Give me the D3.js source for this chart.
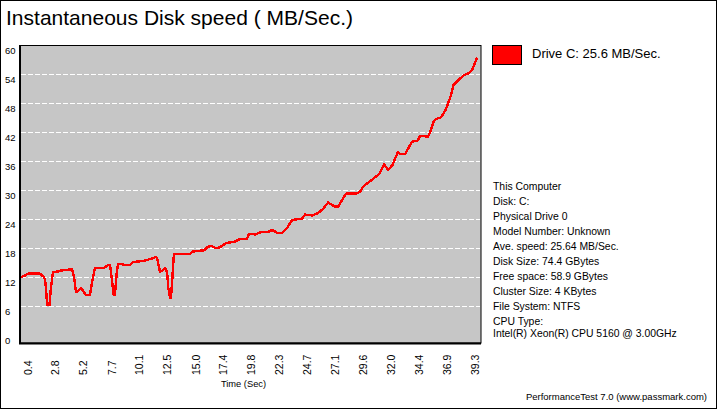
<!DOCTYPE html>
<html>
<head>
<meta charset="utf-8">
<script src="https://cdn.jsdelivr.net/npm/d3@7"></script>
<style>
  body { margin: 0; background: #fff; }
  svg { display: block; }
  text { font-family: "Liberation Sans", Arial, sans-serif; fill: #000; }
</style>
</head>
<body>
<svg id="chart" width="717" height="410"></svg>
<script>
// values
var times = [0, 0.35, 0.61, 1.65, 2.0, 2.09, 2.17, 2.23, 2.3, 2.48, 2.61, 2.78, 3.22, 3.48, 4.26, 4.43, 4.61, 4.78, 4.96, 5.22, 5.65, 6.0, 6.17, 6.43, 7.22, 7.57, 7.74, 7.89, 8.0, 8.06, 8.17, 8.32, 8.43, 8.78, 8.96, 9.48, 9.74, 10.61, 11.39, 11.74, 11.83, 12.09, 12.35, 12.52, 12.7, 12.81, 12.96, 13.04, 13.16, 13.3, 14.7, 14.87, 15.91, 16.26, 16.61, 16.87, 17.13, 17.48, 17.83, 18.26, 18.61, 19.04, 19.65, 19.83, 20.35, 20.87, 21.48, 21.83, 22.26, 22.7, 23.13, 23.57, 24.43, 24.7, 25.3, 25.83, 26.26, 26.7, 27.3, 27.57, 27.91, 28.26, 29.13, 29.48, 29.74, 30.26, 31.04, 31.22, 31.57, 31.91, 32.3, 32.78, 32.96, 33.39, 33.83, 34.0, 34.48, 34.7, 35.0, 35.35, 35.57, 35.87, 36.09, 36.52, 36.87, 37.17, 37.39, 37.61, 38.04, 38.52, 38.91, 39.22, 39.39, 39.65];
var speeds = [12.10, 12.41, 12.79, 12.79, 12.10, 11.48, 9.83, 7.76, 6.31, 6.31, 10.03, 13.14, 13.24, 13.45, 13.66, 13.76, 12.10, 9.0, 9.21, 9.83, 8.38, 8.38, 10.86, 13.97, 13.97, 14.59, 14.59, 11.9, 9.6, 8.38, 8.38, 12.93, 14.79, 14.79, 14.59, 14.59, 15.21, 15.41, 15.93, 16.24, 16.03, 13.14, 13.55, 14.03, 13.14, 9.83, 7.76, 7.76, 11.9, 16.92, 16.92, 17.34, 17.63, 18.37, 18.52, 18.1, 18.1, 18.52, 19.14, 19.28, 19.45, 19.97, 19.97, 21.06, 20.9, 21.41, 21.41, 21.83, 21.27, 21.21, 22.24, 23.9, 24.17, 25.03, 24.83, 25.34, 26.17, 27.52, 26.65, 26.65, 28.03, 29.34, 29.34, 29.75, 30.79, 31.76, 33.21, 33.68, 35.48, 34.24, 35.28, 38.03, 37.55, 37.49, 39.41, 40.1, 40.3, 41.28, 41.28, 41.07, 42.04, 44.24, 44.79, 45.15, 46.45, 48.25, 49.76, 51.83, 52.86, 53.9, 54.25, 54.93, 55.97, 57.48];
var yTicks = [0, 6, 12, 18, 24, 30, 36, 42, 48, 54, 60];
var xTicks = ["0.4", "2.8", "5.2", "7.7", "10.1", "12.5", "15.0", "17.4", "19.8", "22.3", "24.7", "27.1", "29.6", "32.0", "34.4", "36.9", "39.3"];
var infoLines = ["This Computer", "Disk: C:", "Physical Drive 0", "Model Number: Unknown", "Ave. speed: 25.64 MB/Sec.", "Disk Size: 74.4 GBytes", "Free space: 58.9 GBytes", "Cluster Size: 4 KBytes", "File System: NTFS", "CPU Type:"];
var cpuLine = "Intel(R) Xeon(R) CPU 5160 @ 3.00GHz";

var svg = d3.select("#chart");

var x = d3.scaleLinear().domain([0, 39.3]).range([21, 473]);
var y = d3.scaleLinear().domain([0, 60]).range([335.5, 45.5]);

// outer border
svg.append("rect").attr("x", 0.5).attr("y", 0.5).attr("width", 716).attr("height", 408)
  .attr("fill", "#fff").attr("stroke", "#000");

svg.append("text").attr("x", 6).attr("y", 25).attr("font-size", 21)
  .attr("textLength", 347).text("Instantaneous Disk speed ( MB/Sec.)");

// plot area, runs a bit below the zero line like the original
svg.append("rect").attr("x", 20).attr("y", 45.5).attr("width", 461).attr("height", 297.5)
  .attr("fill", "#c6c6c6").attr("stroke", "#000");
svg.append("line").attr("x1", 20).attr("x2", 20).attr("y1", 45).attr("y2", 344)
  .attr("stroke", "#000").attr("stroke-width", 2);
svg.append("line").attr("x1", 19).attr("x2", 481).attr("y1", 343.5).attr("y2", 343.5)
  .attr("stroke", "#000").attr("stroke-width", 2);

// gridlines
svg.append("g").selectAll("line")
  .data(yTicks.filter(d => d > 0 && d < 60))
  .join("line")
  .attr("x1", 21).attr("x2", 480)
  .attr("y1", d => y(d)).attr("y2", d => y(d))
  .attr("stroke", "#fff").attr("stroke-dasharray", "5,2");

// y axis, labels sit left aligned and a little under their gridline
var yAxis = svg.append("g").attr("transform", "translate(5,4.5)")
  .call(d3.axisLeft(y).tickValues(yTicks).tickSize(0).tickPadding(0));
yAxis.select(".domain").remove();
yAxis.selectAll("text").attr("font-size", 9.5).attr("text-anchor", "start").attr("x", 0).attr("dy", "0.32em")
  .style("font-family", "'Liberation Sans', Arial, sans-serif");

// x axis, rotated labels
var xAxis = svg.append("g").attr("transform", "translate(0,345)")
  .call(d3.axisBottom(x).tickValues(xTicks.map(Number)).tickFormat(d3.format(".1f")).tickSize(0).tickPadding(0));
xAxis.select(".domain").remove();
xAxis.selectAll("text")
  .attr("font-size", 10.5)
  .attr("text-anchor", "start")
  .attr("dy", 0)
  .attr("y", 0)
  .attr("x", 0)
  .attr("transform", "translate(5.5,30) rotate(-90)")
  .style("font-family", "'Liberation Sans', Arial, sans-serif");

svg.append("text").attr("x", 243.5).attr("y", 386.5).attr("text-anchor", "middle")
  .attr("font-size", 9.3).text("Time (Sec)");

// the speed line
var line = d3.line().x((d, i) => x(times[i])).y(d => y(d));
svg.append("path").datum(speeds).attr("d", line)
  .attr("fill", "none").attr("stroke", "#ff0000").attr("stroke-width", 2.4)
  .attr("stroke-linejoin", "round").attr("shape-rendering", "crispEdges");

// legend
svg.append("rect").attr("x", 492.5).attr("y", 45.5).attr("width", 29).attr("height", 19)
  .attr("fill", "#ff0000").attr("stroke", "#000");
svg.append("text").attr("x", 532).attr("y", 58).attr("font-size", 13)
  .text("Drive C: 25.6 MB/Sec.");

// info block
svg.append("g").selectAll("text").data(infoLines).join("text")
  .attr("x", 493).attr("y", (d, i) => 190 + i * 15)
  .attr("font-size", 10.4).text(d => d);
svg.append("text").attr("x", 493).attr("y", 337).attr("font-size", 10.4).text(cpuLine);

svg.append("text").attr("x", 707).attr("y", 400).attr("text-anchor", "end")
  .attr("font-size", 9.5).text("PerformanceTest 7.0 (www.passmark.com)");
</script>
</body>
</html>
